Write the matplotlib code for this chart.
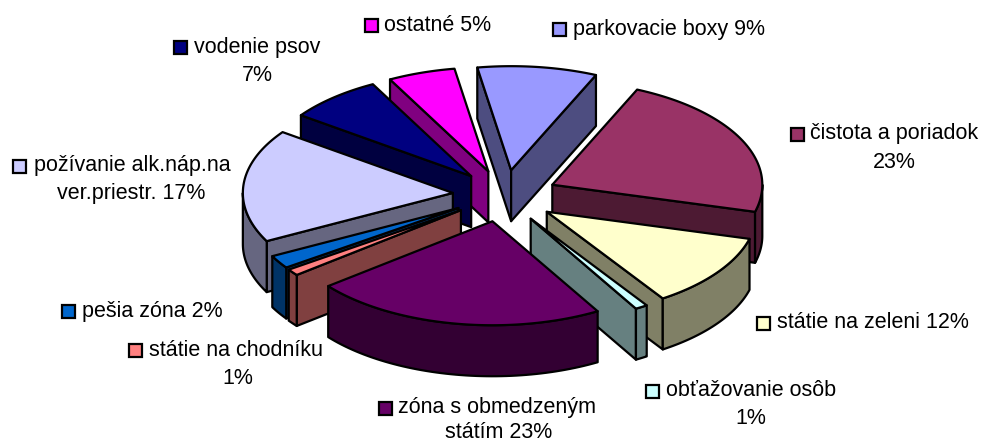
# 3D exploded pie chart, drawn by hand because matplotlib has no such pie
import numpy as np
import matplotlib
matplotlib.use("Agg")
import matplotlib.pyplot as plt
from matplotlib.patches import Polygon, Rectangle
from matplotlib.colors import to_rgb

plt.rcParams['font.family'] = ['Liberation Sans', 'DejaVu Sans']

# Data, clockwise from the top
values = [9, 23, 12, 1, 23, 1, 2, 17, 7, 5]
colors = ['#9999FF', '#993366', '#FFFFCC', '#CCFFFF', '#660066',
          '#FF8080', '#0066CC', '#CCCCFF', '#000080', '#FF00FF']
first_lines = ['parkovacie boxy 9%', 'čistota a poriadok', 'státie na zeleni 12%',
               'obťažovanie osôb', 'zóna s obmedzeným', 'státie na chodníku',
               'pešia zóna 2%', 'požívanie alk.náp.na', 'vodenie psov', 'ostatné 5%']
second_lines = ['', '23%', '', '1%', 'státím 23%', '1%', '', 'ver.priestr. 17%', '7%', '']

# Geometry in pixels of the picture
cx, cy = 505, 196
rx, ry = 210, 104
depth = 51
explode = 0.25
start_angle = -9.5

# key x, key y, x of the first line, centre x and y of the second line
label_pos = [(560, 29, 573, 0, 0), (797.5, 134, 810, 894, 162), (764, 323, 777, 0, 0),
             (653, 391, 666, 751, 419), (386, 408, 398, 499, 433), (135.5, 350, 149, 238, 378),
             (69, 311, 82, 0, 0), (20, 166, 34, 131, 193), (181, 47, 194, 257, 75),
             (372, 25, 384, 0, 0)]

fig = plt.figure(figsize=(9.82, 4.43), dpi=100)
ax = fig.add_axes([0, 0, 1, 1])
ax.set_xlim(0, 982)
ax.set_ylim(443, 0)
ax.axis('off')


def point(tip, angle):
    # angle in degrees, clockwise from the top of the ellipse
    t = np.radians(angle)
    return tip[0] + rx * np.sin(t), tip[1] - ry * np.cos(t)


def warp(angle):
    # the perspective of the original pulls the near half round a little
    t = np.radians(angle)
    return angle + 0.5 - 2 * (1 - np.cos(t)) + 1.5 * np.sin(t)


def shade(c):
    return tuple(v * 0.5 for v in to_rgb(c))


def draw_poly(pts, color):
    ax.add_patch(Polygon(pts, closed=True, facecolor=color, edgecolor='black',
                         linewidth=1.6, joinstyle='round'))


# Slice angles
total = sum(values)
slices = []
a = start_angle
for v, c in zip(values, colors):
    b = a + 360 * v / total
    mid = np.radians((a + b) / 2)
    tip = (cx + explode * rx * np.sin(mid), cy - explode * ry * np.cos(mid))
    slices.append((tip, warp(a), warp(b), c))
    a = b

# Back to front
slices.sort(key=lambda s: s[0][1])

for tip, a, b, c in slices:
    side = shade(c)
    # cut faces, only those turned towards the viewer
    for edge, visible in ((a, np.sin(np.radians(a)) < 0), (b, np.sin(np.radians(b)) > 0)):
        if visible:
            x, y = point(tip, edge)
            draw_poly([tip, (x, y), (x, y + depth), (tip[0], tip[1] + depth)], side)
    # outer rim on the front half
    r0, r1 = max(a, 90), min(b, 270)
    if r0 < r1:
        arc = [point(tip, t) for t in np.linspace(r0, r1, 60)]
        low = [(x, y + depth) for x, y in reversed(arc)]
        draw_poly(arc + low, side)
    # top
    arc = [point(tip, t) for t in np.linspace(a, b, 80)]
    draw_poly([tip] + arc, c)

# Labels with their colour keys
fs = 15.5
for i, (kx, ky, tx, sx, sy) in enumerate(label_pos):
    ax.add_patch(Rectangle((kx - 6.5, ky - 6.5), 13, 13, facecolor=colors[i],
                           edgecolor='black', linewidth=1.6))
    ax.text(tx, ky, first_lines[i], fontsize=fs, ha='left', va='center', color='black')
    if second_lines[i]:
        ax.text(sx, sy, second_lines[i], fontsize=fs, ha='center', va='center', color='black')

fig.savefig('out.png', dpi=100)
